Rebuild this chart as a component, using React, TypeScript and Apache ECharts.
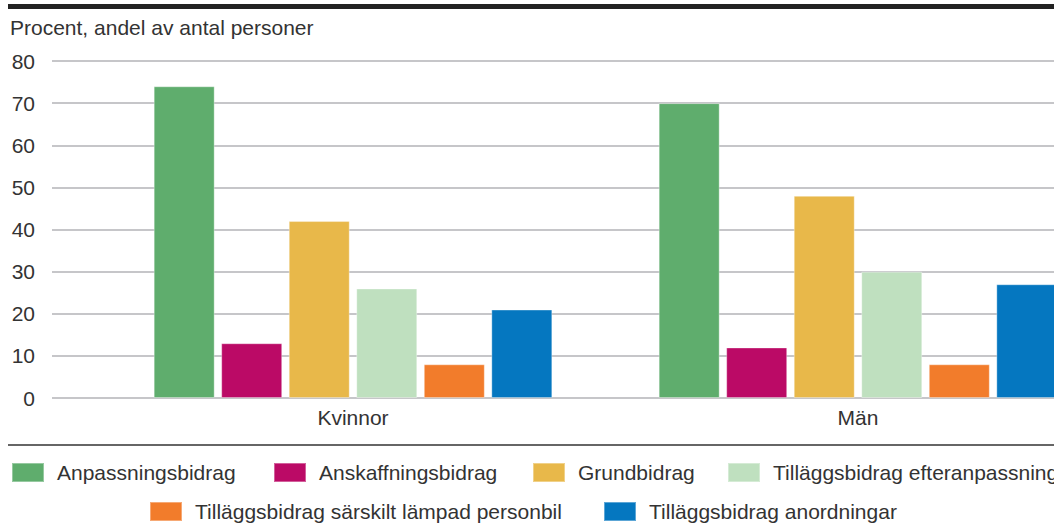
import React, { useEffect, useRef } from "react";
import * as echarts from "echarts";

const categories = ["Kvinnor", "Män"];
const seriesNames = [
  "Anpassningsbidrag",
  "Anskaffningsbidrag",
  "Grundbidrag",
  "Tilläggsbidrag efteranpassning",
  "Tilläggsbidrag särskilt lämpad personbil",
  "Tilläggsbidrag anordningar",
];
const anpassning = [74, 70];
const anskaffning = [13, 12];
const grund = [42, 48];
const efteranpassning = [26, 30];
const personbil = [8, 8];
const anordningar = [21, 27];
const seriesValues = [anpassning, anskaffning, grund, efteranpassning, personbil, anordningar];
const colors = ["#5fad6d", "#bb0a66", "#e8b84a", "#bfe0bf", "#f27c2b", "#0577c0"];
const yTicks = { min: 0, max: 80, interval: 10 };
const titleText = "Procent, andel av antal personer";

const FONT = "'Liberation Sans', Arial, Helvetica, sans-serif";
const TXT = "#333333";

export default function App() {
  const ref = useRef<HTMLDivElement>(null);
  useEffect(() => {
    if (!ref.current) return;
    const chart = echarts.init(ref.current, undefined, { renderer: "svg" });
    const legendPos = [
      { left: 11, top: 462 },
      { left: 273, top: 462 },
      { left: 532, top: 462 },
      { left: 727, top: 462 },
      { left: 149, top: 501 },
      { left: 603, top: 501 },
    ];
    chart.setOption({
      animation: false,
      textStyle: { fontFamily: FONT },
      title: {
        text: titleText,
        left: 10,
        top: 17,
        padding: 0,
        textStyle: { fontFamily: FONT, fontSize: 21, fontWeight: "normal", color: TXT },
      },
      legend: seriesNames.map((n, i) => ({
        data: [n],
        left: legendPos[i].left,
        top: legendPos[i].top,
        padding: 0,
        itemGap: 0,
        itemWidth: 32,
        itemHeight: 19,
        icon: "rect",
        selectedMode: false,
        textStyle: { fontFamily: FONT, fontSize: 21, color: TXT, padding: [0, 0, 0, 8] },
      })),
      grid: [
        { left: 52, right: 0, top: 61, bottom: 132, outerBoundsMode: "none", containLabel: false },
        { left: 100.5, width: 1010, top: 61, bottom: 132, outerBoundsMode: "none", containLabel: false },
      ],
      xAxis: [
        {
          type: "category",
          gridIndex: 0,
          data: categories,
          show: false,
        },
        {
          type: "category",
          gridIndex: 1,
          data: categories,
          axisLine: { show: false },
          axisTick: { show: false },
          axisLabel: { fontFamily: FONT, fontSize: 21, color: TXT, margin: 9 },
        },
      ],
      yAxis: [
        {
          type: "value",
          gridIndex: 0,
          ...yTicks,
          axisLine: { show: false },
          axisTick: { show: false },
          axisLabel: { fontFamily: FONT, fontSize: 21, color: TXT, margin: 17 },
          splitLine: { show: true, lineStyle: { color: "#b3b3b7", width: 1.5 } },
        },
        {
          type: "value",
          gridIndex: 1,
          ...yTicks,
          show: false,
          splitLine: { show: false },
        },
      ],
      series: seriesNames.map((n, i) => ({
        name: n,
        type: "bar",
        xAxisIndex: 1,
        yAxisIndex: 1,
        data: seriesValues[i],
        barWidth: 61,
        barGap: "10.7%",
        itemStyle: { color: colors[i], borderColor: "rgba(255,255,255,0.35)", borderWidth: 1 },
      })),
      graphic: [
        { type: "rect", left: 8, top: 4, shape: { width: 1046, height: 5 }, style: { fill: "#222222" } },
        {
          type: "line",
          shape: { x1: 8, y1: 445, x2: 1054, y2: 445 },
          style: { stroke: "#666666", lineWidth: 2 },
        },
      ],
    });
    return () => chart.dispose();
  }, []);
  return (
    <div
      ref={ref}
      style={{ position: "fixed", left: 0, top: 0, width: 1054, height: 530, background: "#ffffff" }}
    />
  );
}
